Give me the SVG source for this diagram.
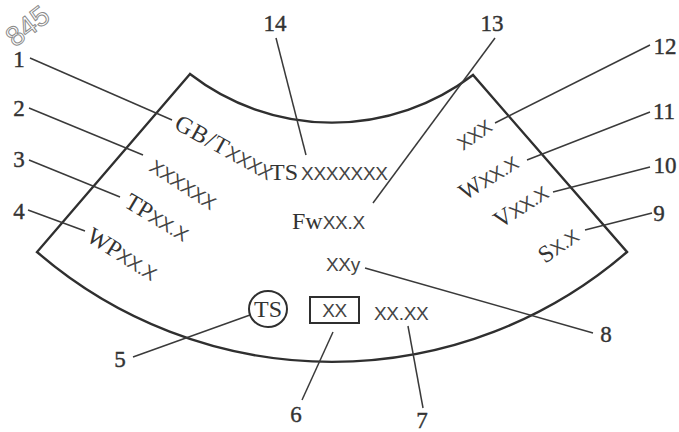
<svg xmlns="http://www.w3.org/2000/svg" width="679" height="432" viewBox="0 0 679 432">
<style>
.num{font-family:"Liberation Serif",serif;font-size:23px;fill:#333;stroke:#333;stroke-width:0.4;text-anchor:middle}
.sr{font-family:"Liberation Serif",serif;font-size:24px;fill:#333}
.ss{font-family:"Liberation Sans",sans-serif;font-size:19px;fill:#444;letter-spacing:-0.3px}
.ld{stroke:#3a3a3a;stroke-width:1.5;fill:none}
.shape{stroke:#2f2f2f;stroke-width:2.4;fill:none;stroke-linejoin:miter}
.wm{font-family:"Liberation Sans",sans-serif;font-size:28px;fill:none;stroke:#8a8a8a;stroke-width:1}
</style>
<rect width="679" height="432" fill="#ffffff"/>
<text class="wm" transform="translate(15,48) rotate(-38)">845</text>
<g id="sector">
<path class="shape" d="M190,74 L37,252 A451,451 0 0 0 627,252 L473,75 A232,232 0 0 1 190,74 Z"/>
</g>
<g id="connectors">
<line class="ld" x1="30" y1="58" x2="172" y2="120"/>
<line class="ld" x1="29" y1="108" x2="143" y2="155"/>
<line class="ld" x1="29" y1="160" x2="120" y2="197"/>
<line class="ld" x1="28" y1="210" x2="85" y2="231"/>
<line class="ld" x1="133" y1="357" x2="250" y2="315"/>
<line class="ld" x1="302" y1="400" x2="333" y2="332"/>
<line class="ld" x1="423" y1="408" x2="408" y2="326"/>
<line class="ld" x1="593" y1="333" x2="365" y2="268"/>
<line class="ld" x1="652" y1="213" x2="585" y2="230"/>
<line class="ld" x1="650" y1="167" x2="553" y2="192"/>
<line class="ld" x1="650" y1="112" x2="527" y2="160"/>
<line class="ld" x1="650" y1="45" x2="495" y2="123"/>
<line class="ld" x1="495" y1="38" x2="373" y2="203"/>
<line class="ld" x1="276" y1="38" x2="306" y2="155"/>
</g>
<g id="n1"><text class="num" x="19" y="67">1</text>
<text transform="translate(173,128) rotate(29)"><tspan class="sr" letter-spacing="1">GB/T</tspan><tspan class="ss">XXXX</tspan></text></g>
<g id="n14"><text class="num" x="275" y="31">14</text>
<text x="270" y="180"><tspan class="sr">TS</tspan><tspan class="ss" dx="3">XXXXXXX</tspan></text></g>
<g id="n2"><text class="num" x="19" y="116">2</text>
<text class="ss" transform="translate(148,170) rotate(33)">XXXXXX</text></g>
<g id="n3"><text class="num" x="19" y="167">3</text>
<text transform="translate(123,206) rotate(31)"><tspan class="sr">TP</tspan><tspan class="ss">XX.X</tspan></text></g>
<g id="n4"><text class="num" x="19" y="219">4</text>
<text transform="translate(85,240) rotate(32)"><tspan class="sr">WP</tspan><tspan class="ss">XX.X</tspan></text></g>
<g id="n13"><text class="num" x="492" y="31">13</text>
<text x="292" y="229"><tspan class="sr">Fw</tspan><tspan class="ss">XX.X</tspan></text></g>
<g id="n12"><text class="num" x="665" y="54">12</text>
<text class="ss" transform="translate(463,151) rotate(-35)">XXX</text></g>
<g id="n11"><text class="num" x="664" y="119">11</text>
<text transform="translate(465,201) rotate(-32)"><tspan class="sr">W</tspan><tspan class="ss">XX.X</tspan></text></g>
<g id="n10"><text class="num" x="665" y="173">10</text>
<text transform="translate(500,229) rotate(-33)"><tspan class="sr">V</tspan><tspan class="ss">XX.X</tspan></text></g>
<g id="n9"><text class="num" x="659" y="221">9</text>
<text transform="translate(545,264) rotate(-35)"><tspan class="sr">S</tspan><tspan class="ss">X.X</tspan></text></g>
<g id="n8"><text class="num" x="606" y="342">8</text>
<text class="ss" x="326" y="271">XXy</text></g>
<g id="n5"><text class="num" x="120" y="367">5</text>
<ellipse cx="268" cy="309" rx="19" ry="18" fill="none" stroke="#2f2f2f" stroke-width="2"/>
<text class="sr" x="268" y="317" text-anchor="middle" font-size="21">TS</text></g>
<g id="n6"><text class="num" x="296" y="422">6</text>
<rect x="310" y="297" width="49" height="26" fill="none" stroke="#2f2f2f" stroke-width="2"/>
<text class="ss" x="334.5" y="317" text-anchor="middle" font-size="19">XX</text></g>
<g id="n7"><text class="num" x="422" y="428">7</text>
<text class="ss" x="374" y="320">XX.XX</text></g>
</svg>
